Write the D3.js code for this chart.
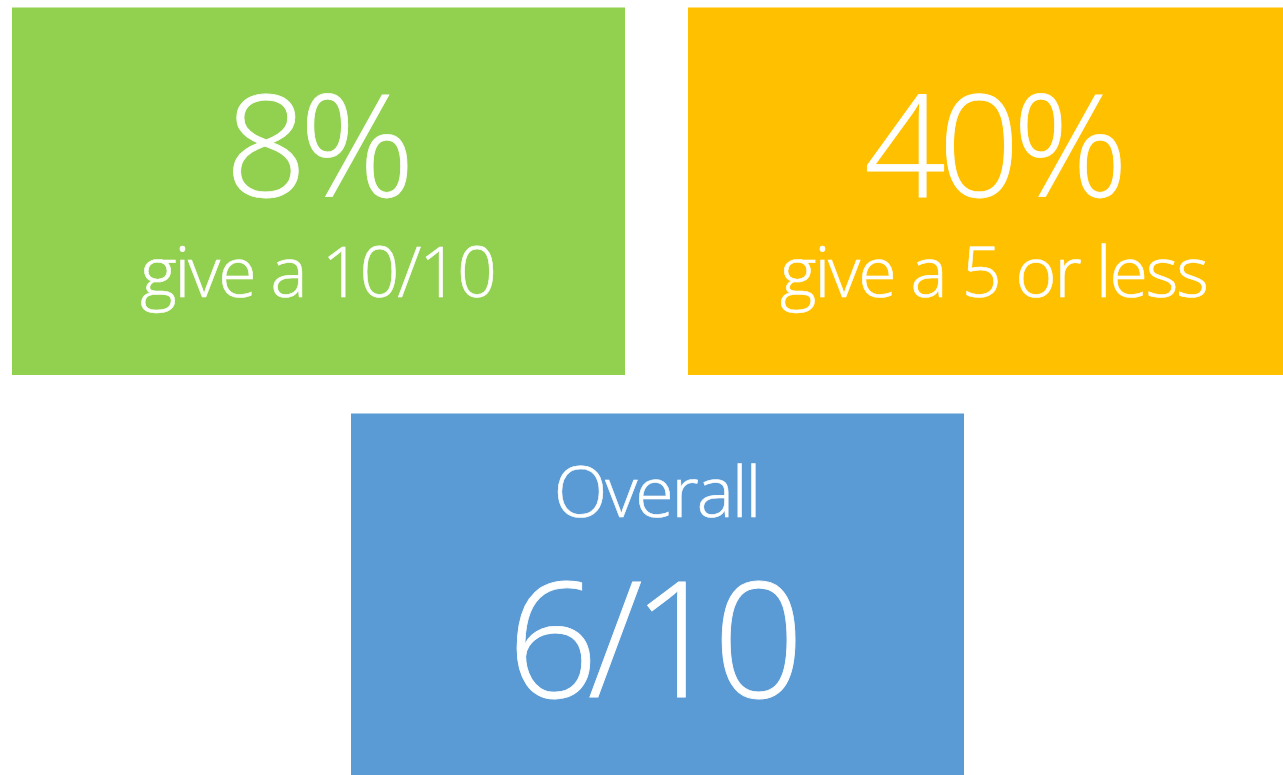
<!DOCTYPE html>
<html>
<head>
<meta charset="utf-8">
<script src="https://cdn.jsdelivr.net/npm/d3@7"></script>
<style>
  body { margin: 0; background: #fff; overflow: hidden; }
  text { font-family: "Open Sans", "Noto Sans", sans-serif; font-weight: 300; fill: #fff; stroke: #fff; stroke-width: 0.6px; }
</style>
</head>
<body>
<div id="tiles"></div>
<script>
// Score summary tiles

var tileNames = ["tenOutOfTen", "fiveOrLess", "overall"];
var tileValues = [8, 40, 6];
var tileFormats = ["pct", "pct", "score"];
var tileCaptions = ["give a 10/10", "give a 5 or less", "Overall"];
var tileColors = ["#92d050", "#ffc000", "#5b9bd5"];

var width = 1283;
var height = 775;

var svg = d3.select("#tiles").append("svg")
    .attr("width", width)
    .attr("height", height);

// tile geometry
var tileW = 613, tileH = 367.5;
var tileX = d3.scaleOrdinal().domain(tileNames).range([12, 688, 351]);
var tileY = d3.scaleOrdinal().domain(tileNames).range([7.5, 7.5, 413.5]);

var fmt = function(v, i) {
    return tileFormats[i] == "pct" ? v + "%" : v + "/10";
};

var tiles = svg.selectAll(".tile")
    .data(tileNames)
    .enter().append("g")
    .attr("class", "tile")
    .attr("transform", function(d) { return "translate(" + tileX(d) + "," + tileY(d) + ")"; });

tiles.append("rect")
    .attr("width", tileW)
    .attr("height", tileH)
    .style("fill", function(d, i) { return tileColors[i]; })
    .style("stroke", "none");

// big number - top row has number first, overall tile has caption first
// (dx undoes the shift from the trailing letter-spacing)
tiles.append("text")
    .attr("x", tileW / 2)
    .attr("y", function(d, i) { return i < 2 ? 189.5 : 283.5; })
    .attr("dx", function(d, i) { return i < 2 ? -2 : -7; })
    .attr("text-anchor", "middle")
    .style("font-size", function(d, i) { return i < 2 ? "143px" : "160px"; })
    .style("letter-spacing", function(d, i) { return i < 2 ? "-0.05em" : "-0.065em"; })
    .style("stroke-width", "0.8px")
    .text(function(d, i) { return fmt(tileValues[i], i); });

tiles.append("text")
    .attr("x", tileW / 2)
    .attr("y", function(d, i) { return i < 2 ? 289.5 : 103.5; })
    .attr("dx", -1)
    .attr("text-anchor", "middle")
    .style("font-size", "70px")
    .style("letter-spacing", "-0.03em")
    .text(function(d, i) { return tileCaptions[i]; });
</script>
</body>
</html>
